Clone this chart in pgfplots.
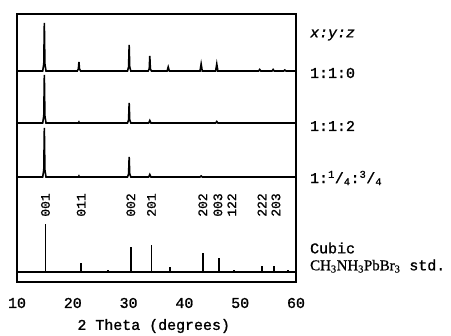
\documentclass[border=0pt]{standalone}
\usepackage{pgfplots}
\pgfplotsset{compat=1.18}
\usepackage{fontspec}
\setmainfont{Liberation Mono}[UprightFeatures={FakeBold=1.2}, ItalicFeatures={FakeBold=1.2}]
\newfontfamily\seriffont{Liberation Serif}[FakeBold=0.8]
\begin{document}
\begin{tikzpicture}
\useasboundingbox (0,0) rectangle (451bp,336bp);
\begin{axis}[
  at={(17bp,54bp)}, anchor=south west,
  scale only axis, width=279bp, height=268bp,
  xmin=10, xmax=60, ymin=-10, ymax=258,
  xtick={10,20,30,40,50,60}, ytick=\empty,
  major tick length=0pt,
  /pgf/number format/assume math mode=true,
  xticklabel style={font=\fontsize{15}{15}\selectfont, anchor=center, yshift=-21bp},
  xlabel={2 Theta (degrees)},
  xlabel style={font=\fontsize{15}{15}\selectfont, anchor=center, at={(axis description cs:0.49,0)}, yshift=-44bp},
  axis line style={line width=1.6bp},
  clip=false,
]
% top pattern 1:1:0
\addplot[black, line width=1.6bp] coordinates {
(10,201)(14.6,201)(14.8,208)(14.9,249)(15.0,208)(15.2,201)
(20.8,201)(21.0,203)(21.1,210)(21.2,203)(21.4,201)
(29.8,201)(30.0,205)(30.1,227)(30.2,205)(30.4,201)
(33.5,201)(33.7,203)(33.8,216)(33.9,203)(34.1,201)
(36.9,201)(37.1,205)(37.3,201)
(42.8,201)(43.0,208)(43.2,201)
(45.6,201)(45.8,208)(46.0,201)
(53.3,201)(53.5,202.5)(53.7,201)
(55.7,201)(55.9,202.5)(56.1,201)
(57.8,201)(58.0,202)(58.2,201)
(60,201)};
% second pattern 1:1:2
\addplot[black, line width=1.6bp] coordinates {
(10,149)(14.6,149)(14.8,156)(14.9,197)(15.0,156)(15.2,149)
(21.0,149)(21.1,150)(21.2,149)
(29.8,149)(30.0,152)(30.1,169)(30.2,152)(30.4,149)
(33.6,149)(33.8,151.5)(34.0,149)
(45.6,149)(45.8,150.5)(46.0,149)
(60,149)};
% third pattern 1:1/4:3/4
\addplot[black, line width=1.6bp] coordinates {
(10,95)(14.6,95)(14.8,102)(14.9,144)(15.0,102)(15.2,95)
(21.0,95)(21.1,96)(21.2,95)
(29.8,95)(30.0,98)(30.1,115)(30.2,98)(30.4,95)
(33.6,95)(33.8,97.5)(34.0,95)
(42.8,95)(43.0,96)(43.2,95)
(60,95)};
% standard
\addplot[black, line width=1.6bp] coordinates {(10,0)(60,0)};
\addplot[black, ycomb, line width=1.5bp] coordinates {
(15.1,48)(21.5,9)(26.3,2)(30.4,25)(34.1,27)(37.4,5)(43.3,19)(46.2,14)(48.9,2)(53.9,6)(56.1,6)(58.6,2)};
% peak labels
\begin{scope}[every node/.style={rotate=90, font=\fontsize{13}{13}\selectfont, inner sep=0pt}]
\node at (axis cs:15.1,67) {001};
\node at (axis cs:21.5,67) {011};
\node at (axis cs:30.4,67) {002};
\node at (axis cs:34.1,67) {201};
\node at (axis cs:43.3,67) {202};
\node at (axis cs:46.0,67) {003};
\node at (axis cs:48.5,67) {122};
\node at (axis cs:53.9,67) {222};
\node at (axis cs:56.4,67) {203};
\end{scope}
% right labels
\begin{scope}[every node/.style={anchor=west, font=\fontsize{15}{15}\selectfont, inner sep=0pt}]
\node at (axis cs:62.5,237) {\itshape x:y:z};
\node at (axis cs:62.5,199) {1:1:0};
\node at (axis cs:62.5,146) {1:1:2};
\node at (axis cs:62.5,94) {1:\textsuperscript{1}/\textsubscript{4}:\textsuperscript{3}/\textsubscript{4}};
\node at (axis cs:62.5,24) {Cubic};
\node at (axis cs:62.5,6) {{\seriffont CH\textsubscript{3}NH\textsubscript{3}PbBr\textsubscript{3}} std.};
\end{scope}
\end{axis}
\end{tikzpicture}
\end{document}
